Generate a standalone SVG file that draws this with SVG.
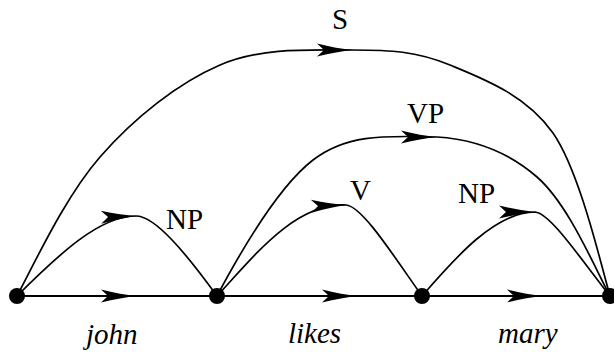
<svg xmlns="http://www.w3.org/2000/svg" width="614" height="354" viewBox="0 0 614 354">
<style>
.edge{fill:none;stroke:#000;stroke-width:1.7}
.base{fill:none;stroke:#000;stroke-width:2}
.lbl{font-family:"Liberation Serif","Times New Roman",serif;font-size:29px;fill:#000}
.word{font-family:"Liberation Serif","Times New Roman",serif;font-size:29px;font-style:italic;fill:#000}
.node{fill:#000}
</style>
<defs>
<path id="ah" d="M0,0 Q-16,-1.5 -36,-6.5 L-29,0 L-36,6.5 Q-16,1.5 0,0 Z" fill="#000"/>
</defs>
<g id="connectors">
<path class="base" d="M17,296 L217,296"/>
<path class="base" d="M217,296 L422,296"/>
<path class="base" d="M422,296 L610,296"/>
<use href="#ah" transform="translate(137,296)"/>
<use href="#ah" transform="translate(358,296)"/>
<use href="#ah" transform="translate(543,296)"/>
<path class="edge" d="M17,296 C60,253 100,216 136,216 C155,216 185,252 217,296"/>
<use href="#ah" transform="translate(137,216) rotate(-2)"/>
<path class="edge" d="M217,296 C255,255 295,203 346,205 C362,206 393,255 422,296"/>
<use href="#ah" transform="translate(347,205) rotate(-2)"/>
<path class="edge" d="M422,296 C455,258 495,212 535,212 C550,213 580,258 610,296"/>
<use href="#ah" transform="translate(535,212)"/>
<path class="edge" d="M217,296 C242,249 278,187 313,160 C348,133 388,136 437,137 C470,139 506,150 537,177 C568,204 593,264 610,296"/>
<use href="#ah" transform="translate(437,137)"/>
<path class="edge" d="M17,296 C37,258 66,196 100,157 C134,118 178,83 220,65 C262,47 312,50 352,50 C390,50 416,51 450,65 C484,79 526,95 553,133 C580,172 601,265 610,296"/>
<use href="#ah" transform="translate(353,50)"/>
</g>
<g id="n1"><circle class="node" cx="17" cy="296" r="8"/></g>
<g id="n2"><circle class="node" cx="217" cy="296" r="8"/></g>
<g id="n3"><circle class="node" cx="422" cy="296" r="8"/></g>
<g id="n4"><circle class="node" cx="610" cy="296" r="8"/></g>
<g id="labels">
<text class="lbl" x="332" y="29">S</text>
<text class="lbl" x="407" y="123">VP</text>
<text class="lbl" x="166" y="229">NP</text>
<text class="lbl" x="350" y="200">V</text>
<text class="lbl" x="458" y="203">NP</text>
<text class="word" x="86" y="344">john</text>
<text class="word" x="288" y="343">likes</text>
<text class="word" x="498" y="343">mary</text>
</g>
</svg>
